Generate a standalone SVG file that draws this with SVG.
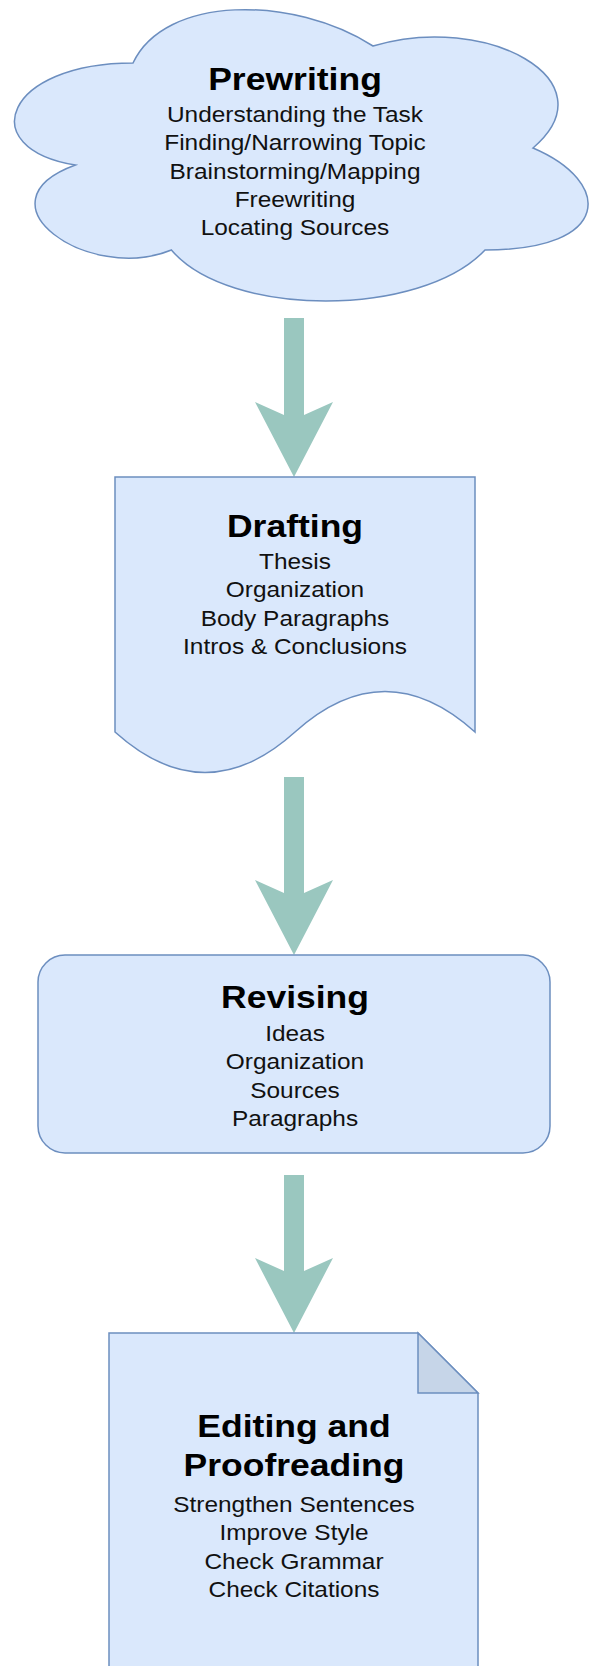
<svg xmlns="http://www.w3.org/2000/svg" width="590" height="1666" viewBox="0 0 590 1666">
<style>
.shape{fill:#dae8fc;stroke:#6c8ebf;stroke-width:1.5}
.fold{fill:#c6d5e8;stroke:#6c8ebf;stroke-width:1.5}
.arrow{fill:#9ac7bf;stroke:none}
.title{font-family:"Liberation Sans",Arial,sans-serif;font-weight:bold;font-size:32px;fill:#000;text-anchor:middle}
.item{font-family:"Liberation Sans",Arial,sans-serif;font-size:22px;fill:#111;text-anchor:middle}
</style>
<rect x="0" y="0" width="590" height="1666" fill="#ffffff"/>
<g id="connectors">
<path class="arrow" d="M284,318 H304 V415 L333,402 L294,477 L255,402 L284,415 Z"/>
<path class="arrow" d="M284,777 H304 V893 L333,880 L294,955 L255,880 L284,893 Z"/>
<path class="arrow" d="M284,1175 H304 V1271 L333,1258 L294,1333 L255,1258 L284,1271 Z"/>
</g>
<g id="prewriting">
<path class="shape" d="M133,63 C5,63 -27,148 75.4,165 C-27,202.4 88.2,284 171.4,250 C229,318 421,318 485,250 C613,250 613,182 533,148 C613,80 485,12 373,46 C293,-5 165,-5 133,63 Z"/>
<g transform="translate(295 0) scale(1.11 1)">
<text class="title" x="0" y="90">Prewriting</text>
<text class="item" x="0" y="122">Understanding the Task</text>
<text class="item" x="0" y="150.3">Finding/Narrowing Topic</text>
<text class="item" x="0" y="178.6">Brainstorming/Mapping</text>
<text class="item" x="0" y="206.9">Freewriting</text>
<text class="item" x="0" y="235.2">Locating Sources</text>
</g>
</g>
<g id="drafting">
<path class="shape" d="M115,477 H475 V732 Q385,651 295,732 Q205,813 115,732 Z"/>
<g transform="translate(295 0) scale(1.11 1)">
<text class="title" x="0" y="537">Drafting</text>
<text class="item" x="0" y="569">Thesis</text>
<text class="item" x="0" y="597.5">Organization</text>
<text class="item" x="0" y="626">Body Paragraphs</text>
<text class="item" x="0" y="654.5">Intros &amp; Conclusions</text>
</g>
</g>
<g id="revising">
<rect class="shape" x="38" y="955" width="512" height="198" rx="27" ry="27"/>
<g transform="translate(295 0) scale(1.11 1)">
<text class="title" x="0" y="1008">Revising</text>
<text class="item" x="0" y="1041">Ideas</text>
<text class="item" x="0" y="1069.3">Organization</text>
<text class="item" x="0" y="1097.6">Sources</text>
<text class="item" x="0" y="1126">Paragraphs</text>
</g>
</g>
<g id="editing">
<path class="shape" d="M109,1333 H418 L478,1393 V1672 H109 Z"/>
<path class="fold" d="M418,1333 V1393 H478 Z"/>
<g transform="translate(294 0) scale(1.11 1)">
<text class="title" x="0" y="1437">Editing and</text>
<text class="title" x="0" y="1476">Proofreading</text>
<text class="item" x="0" y="1512">Strengthen Sentences</text>
<text class="item" x="0" y="1540.5">Improve Style</text>
<text class="item" x="0" y="1569">Check Grammar</text>
<text class="item" x="0" y="1597">Check Citations</text>
</g>
</g>
</svg>
